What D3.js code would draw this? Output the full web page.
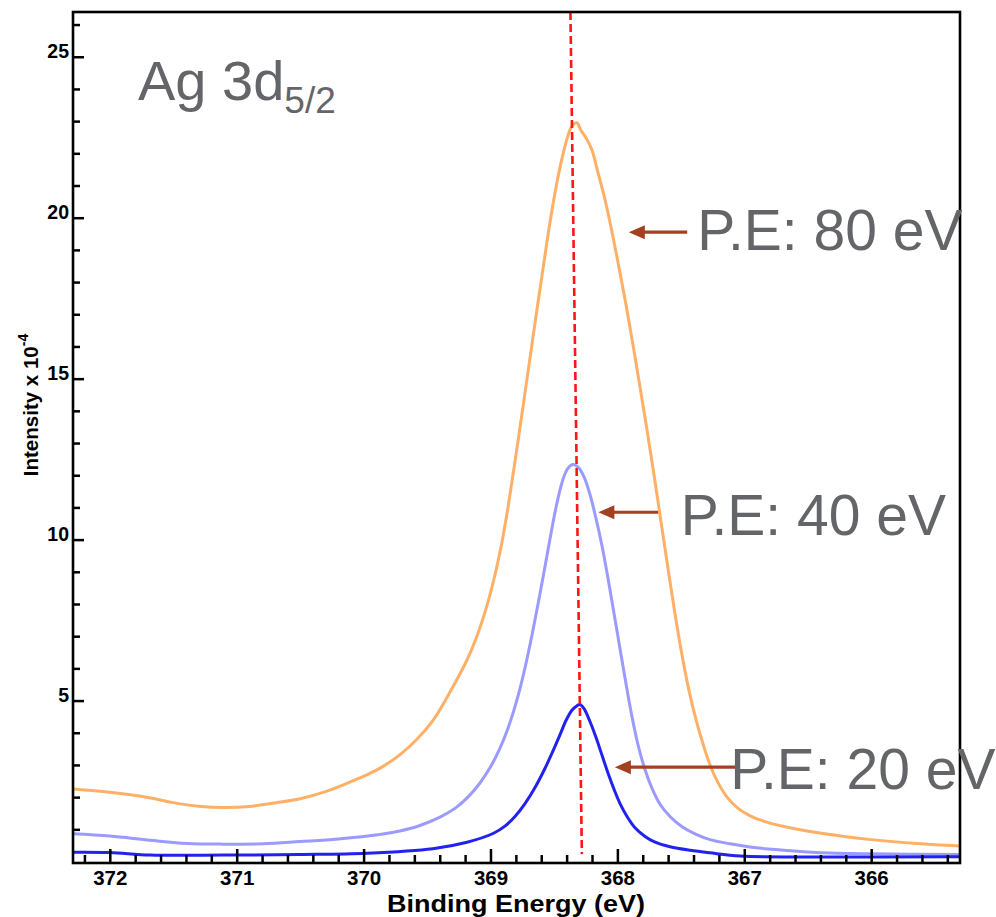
<!DOCTYPE html>
<html>
<head>
<meta charset="utf-8">
<script src="https://cdn.jsdelivr.net/npm/d3@7/dist/d3.min.js"></script>
<style>
  html, body { margin: 0; padding: 0; background: #ffffff; }
  svg { display: block; font-family: Arial, "Liberation Sans", sans-serif; }
</style>
</head>
<body>
<svg id="chart" width="996" height="917"></svg>
<script>
// Ag 3d5/2 XPS spectra recorded at three pass energies.
// Each point: [binding energy (eV), intensity (x 10^-4)].
const pe80 = [
  [372.29, 2.25], [372.00, 2.15], [371.70, 1.99], [371.50, 1.83], [371.30, 1.72],
  [371.10, 1.68], [370.90, 1.71], [370.70, 1.82], [370.50, 1.95], [370.30, 2.17],
  [370.10, 2.48], [369.95, 2.74], [369.87, 2.90], [369.71, 3.33], [369.58, 3.80],
  [369.45, 4.40], [369.296, 5.43], [369.185, 6.26], [369.107, 7.00], [369.028, 7.95],
  [368.965, 8.90], [368.910, 9.92], [368.870, 10.80], [368.831, 11.80], [368.791, 12.85],
  [368.752, 13.90], [368.712, 15.00], [368.673, 16.07], [368.634, 17.14], [368.594, 18.20],
  [368.555, 19.25], [368.515, 20.25], [368.476, 21.10], [368.436, 21.85], [368.397, 22.45],
  [368.358, 22.85], [368.32, 22.95], [368.285, 22.70], [368.25, 22.50], [368.20, 22.10],
  [368.153, 21.40], [368.097, 20.55], [368.042, 19.55], [367.987, 18.45], [367.932, 17.30],
  [367.877, 16.05], [367.822, 14.75], [367.766, 13.40], [367.711, 12.00], [367.656, 10.55],
  [367.601, 9.10], [367.546, 7.70], [367.490, 6.40], [367.435, 5.30], [367.380, 4.40],
  [367.325, 3.65], [367.270, 3.00], [367.207, 2.45], [367.136, 2.00], [367.049, 1.65],
  [366.954, 1.42], [366.836, 1.24], [366.678, 1.08], [366.43, 0.90], [366.20, 0.77],
  [366.00, 0.68], [365.64, 0.56], [365.30, 0.48]
];
const pe40 = [
  [372.29, 0.86], [372.00, 0.79], [371.68, 0.66], [371.39, 0.56], [371.10, 0.54],
  [370.79, 0.55], [370.50, 0.62], [370.20, 0.70], [369.871, 0.84], [369.714, 0.95],
  [369.556, 1.12], [369.398, 1.38], [369.280, 1.65], [369.178, 2.00], [369.083, 2.44],
  [369.004, 2.91], [368.925, 3.52], [368.862, 4.14], [368.807, 4.81], [368.760, 5.49],
  [368.712, 6.30], [368.665, 7.19], [368.618, 8.15], [368.571, 9.15], [368.523, 10.20],
  [368.476, 11.14], [368.429, 11.87], [368.389, 12.22], [368.350, 12.33], [368.310, 12.25],
  [368.263, 11.95], [368.216, 11.40], [368.168, 10.65], [368.121, 9.80], [368.074, 8.80],
  [368.027, 7.72], [367.979, 6.60], [367.932, 5.52], [367.885, 4.50], [367.837, 3.62],
  [367.782, 2.85], [367.727, 2.27], [367.664, 1.78], [367.585, 1.40], [367.490, 1.08],
  [367.388, 0.86], [367.270, 0.68], [367.112, 0.55], [366.954, 0.45], [366.757, 0.37],
  [366.43, 0.28], [366.00, 0.24], [365.30, 0.22]
];
const pe20 = [
  [372.29, 0.29], [372.00, 0.28], [371.68, 0.20], [371.10, 0.20], [370.502, 0.22],
  [369.974, 0.26], [369.454, 0.40], [369.185, 0.60], [368.980, 0.87], [368.886, 1.10],
  [368.807, 1.40], [368.728, 1.80], [368.649, 2.30], [368.571, 2.89], [368.507, 3.44],
  [368.452, 3.94], [368.405, 4.38], [368.358, 4.70], [368.318, 4.84], [368.295, 4.88],
  [368.263, 4.75], [368.216, 4.35], [368.168, 3.85], [368.121, 3.30], [368.074, 2.75],
  [368.027, 2.25], [367.979, 1.80], [367.924, 1.40], [367.861, 1.05], [367.782, 0.78],
  [367.703, 0.60], [367.585, 0.46], [367.427, 0.35], [367.270, 0.27], [367.033, 0.17],
  [366.560, 0.14], [365.30, 0.15]
];

const seriesNames = ["P.E: 80 eV", "P.E: 40 eV", "P.E: 20 eV"];
const seriesColors = ["#ffb066", "#9a9aff", "#2222ee"];

// Peak reference line (binding energy at top and bottom of the plot).
const peakLine = [[368.37, 26.39], [368.28, 0.23]];

// Label annotations: arrow tip, arrow tail and text anchor in data units.
const labelArrowTip = [[367.91, 19.55], [368.15, 10.85], [368.02, 2.93]];
const labelArrowTail = [[367.45, 19.55], [367.68, 10.85], [367.07, 2.93]];
const labelAnchor = [[367.37, 19.0], [367.50, 10.14], [367.11, 2.24]];

const xTickValues = [372, 371, 370, 369, 368, 367, 366];
const yTickValues = [5, 10, 15, 20, 25];
const xDomain = [372.29, 365.30];
const yDomain = [-0.046, 26.39];

const svg = d3.select("#chart");
const plot = { left: 73, top: 12, right: 960, bottom: 863 };

const x = d3.scaleLinear().domain(xDomain).range([plot.left, plot.right]);
const y = d3.scaleLinear().domain(yDomain).range([plot.bottom, plot.top]);

// Spectra
const line = d3.line()
  .x(d => x(d[0]))
  .y(d => y(d[1]))
  .curve(d3.curveCatmullRom.alpha(0.5));

svg.append("defs").append("clipPath").attr("id", "plotClip")
  .append("rect")
  .attr("x", plot.left).attr("y", plot.top)
  .attr("width", plot.right - plot.left).attr("height", plot.bottom - plot.top);

const curves = svg.append("g").attr("clip-path", "url(#plotClip)");
[pe80, pe40, pe20].forEach((data, i) => {
  curves.append("path")
    .datum(data)
    .attr("fill", "none")
    .attr("stroke", seriesColors[i])
    .attr("stroke-width", 3)
    .attr("stroke-linejoin", "round")
    .attr("d", line);
});

// Dashed peak position line
svg.append("line")
  .attr("x1", x(peakLine[0][0])).attr("y1", y(peakLine[0][1]))
  .attr("x2", x(peakLine[1][0])).attr("y2", y(peakLine[1][1]))
  .attr("stroke", "#ff1515")
  .attr("stroke-width", 2.6)
  .attr("stroke-dasharray", "8,4");

// Axes: ticks point into the plot
const xMinor = d3.range(3654, 3724, 2).map(v => v / 10).filter(v => !xTickValues.includes(v));
const yMinor = d3.range(1, 27).filter(v => !yTickValues.includes(v));

const xAxisMinor = svg.append("g")
  .attr("transform", `translate(0,${plot.bottom})`)
  .call(d3.axisBottom(x).tickValues(xMinor).tickSize(-8).tickFormat(""));
const xAxis = svg.append("g")
  .attr("transform", `translate(0,${plot.bottom})`)
  .call(d3.axisBottom(x).tickValues(xTickValues).tickSize(-14).tickPadding(7).tickFormat(d3.format("d")));

const yAxisMinor = svg.append("g")
  .attr("transform", `translate(${plot.left},0)`)
  .call(d3.axisLeft(y).tickValues(yMinor).tickSize(-7).tickFormat(""));
const yAxis = svg.append("g")
  .attr("transform", `translate(${plot.left},0)`)
  .call(d3.axisLeft(y).tickValues(yTickValues).tickSize(-11).tickPadding(4).tickFormat(d3.format("d")));

[xAxisMinor, xAxis, yAxisMinor, yAxis].forEach(g => {
  g.select(".domain").remove();
  g.selectAll(".tick line").attr("stroke", "#000").attr("stroke-width", 2.5);
});
xAxis.selectAll(".tick text")
  .attr("fill", "#000").attr("font-size", 20.5).attr("font-weight", "bold")
  .attr("font-family", "Arial, 'Liberation Sans', sans-serif");
yAxis.selectAll(".tick text")
  .attr("fill", "#000").attr("font-size", 19.5).attr("font-weight", "bold")
  .attr("dy", "0.06em")
  .attr("font-family", "Arial, 'Liberation Sans', sans-serif");

// Plot frame
svg.append("rect")
  .attr("x", plot.left).attr("y", plot.top)
  .attr("width", plot.right - plot.left).attr("height", plot.bottom - plot.top)
  .attr("fill", "none").attr("stroke", "#000").attr("stroke-width", 2.6);

// Axis titles
svg.append("text")
  .attr("x", 516).attr("y", 912)
  .attr("text-anchor", "middle")
  .attr("font-size", 24).attr("font-weight", "bold")
  .attr("textLength", 258).attr("lengthAdjust", "spacingAndGlyphs")
  .text("Binding Energy (eV)");

const yTitle = svg.append("text")
  .attr("transform", "translate(38,405) rotate(-90)")
  .attr("text-anchor", "middle")
  .attr("font-size", 20.5).attr("font-weight", "bold");
yTitle.append("tspan").text("Intensity x 10");
yTitle.append("tspan").attr("font-size", 14).attr("dy", "-0.75em").text("-4");

// Spectrum title
const title = svg.append("text")
  .attr("x", 138).attr("y", 100)
  .attr("fill", "#646569")
  .attr("font-size", 56);
title.append("tspan").text("Ag 3d");
title.append("tspan").attr("font-size", 37).attr("dy", 13).text("5/2");

// Pass-energy labels with arrows
const labelColor = "#646569";
const arrowColor = "#a2401f";
seriesNames.forEach((name, i) => {
  const tip = labelArrowTip[i], tail = labelArrowTail[i], at = labelAnchor[i];
  const tx = x(tip[0]), ty = y(tip[1]), ex = x(tail[0]);
  svg.append("line")
    .attr("x1", tx + 12).attr("y1", ty).attr("x2", ex).attr("y2", ty)
    .attr("stroke", arrowColor).attr("stroke-width", 3.2);
  svg.append("path")
    .attr("d", `M${tx},${ty} L${tx + 16},${ty - 7} L${tx + 16},${ty + 7} Z`)
    .attr("fill", arrowColor);
  svg.append("text")
    .attr("x", x(at[0])).attr("y", y(at[1]))
    .attr("fill", labelColor)
    .attr("font-size", 57)
    .text(name);
});
</script>
</body>
</html>
